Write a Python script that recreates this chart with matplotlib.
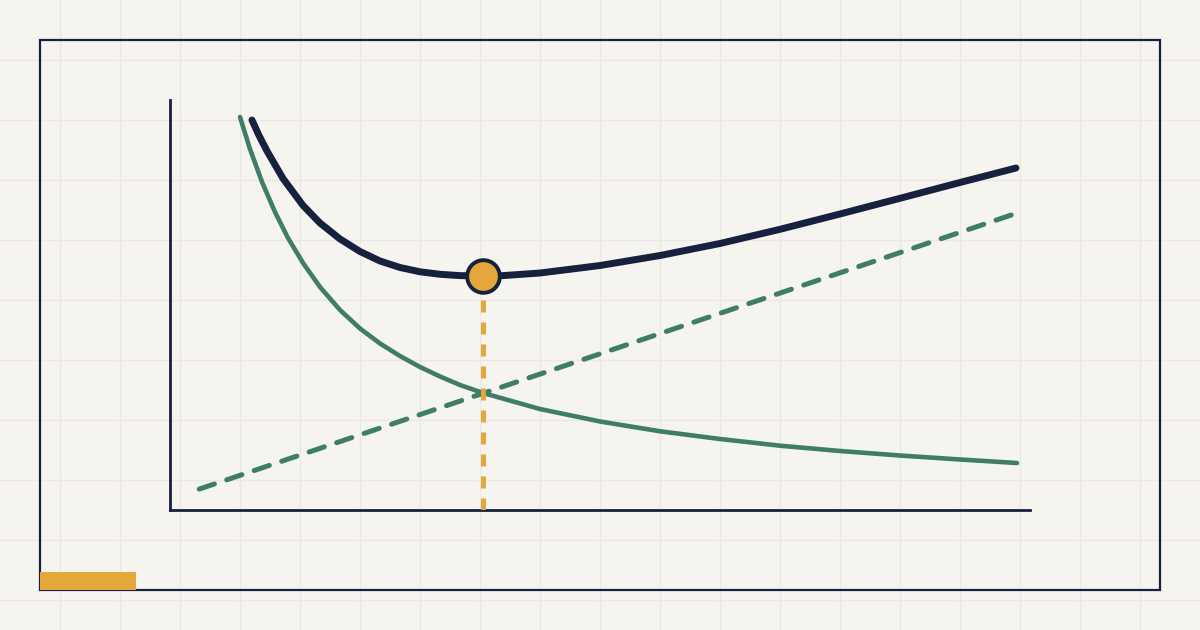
import matplotlib
matplotlib.use("Agg")
import matplotlib.pyplot as plt
from matplotlib.patches import Rectangle

# colours
BG = "#f5f4ef"
GRID = "#ebe8e1"
NAVY = "#16213e"
GREEN = "#3f7d69"
ORANGE = "#e3a73b"

# order quantity (0-100) and cost (0-100)
ordering_x = [8.14, 9.30, 10.70, 12.21, 13.72, 15.47, 17.44, 19.77, 22.09, 24.42, 26.74,
              29.07, 31.40, 33.72, 36.40, 43.02, 50.00, 56.98, 63.95, 70.93, 77.91,
              84.88, 91.86, 98.49]
ordering_y = [95.85, 88.05, 80.00, 72.68, 66.34, 60.24, 54.39, 48.78, 44.27, 40.61, 37.56,
              34.88, 32.56, 30.49, 28.54, 24.63, 21.59, 19.20, 17.32, 15.68, 14.39,
              13.29, 12.32, 11.46]

holding_x = [3.4, 97.9]
holding_y = [5.1, 72.0]

total_x = [9.53, 10.35, 11.28, 13.14, 15.47, 17.44, 19.77, 22.09, 24.42, 26.74, 29.07,
           31.40, 33.72, 36.40, 38.37, 43.02, 50.00, 56.98, 63.95, 70.93, 77.91,
           84.88, 91.86, 98.37]
total_y = [95.12, 91.34, 87.56, 80.85, 74.27, 70.00, 66.10, 63.05, 60.73, 59.15, 58.10,
           57.49, 57.17, 57.07, 57.12, 57.80, 59.63, 62.07, 65.00, 68.46, 72.20,
           76.02, 79.88, 83.41]

eoq_x = 36.4
eoq_y = 57.07

W, H = 1200, 630
fig = plt.figure(figsize=(W / 100, H / 100), dpi=100)
fig.patch.set_facecolor(BG)

# background layer in pixel units: grid, frame and the little orange tab
bg = fig.add_axes([0, 0, 1, 1])
bg.set_xlim(0, W)
bg.set_ylim(H, 0)
bg.axis("off")
for gx in range(60, W, 60):
    bg.axvline(gx, color=GRID, lw=1.0, zorder=0)
for gy in range(60, H, 60):
    bg.axhline(gy, color=GRID, lw=1.0, zorder=0)
bg.add_patch(Rectangle((40, 40), 1120, 550, fill=False, ec=NAVY, lw=1.6, zorder=2))
bg.add_patch(Rectangle((40, 572), 96, 18, fc=ORANGE, ec="none", zorder=3))

# chart
ax = fig.add_axes([170 / W, (H - 510) / H, 860 / W, 410 / H])
ax.set_xlim(0, 100)
ax.set_ylim(0, 100)
ax.patch.set_alpha(0)
for s in ["top", "right"]:
    ax.spines[s].set_visible(False)
for s in ["left", "bottom"]:
    ax.spines[s].set_color(NAVY)
    ax.spines[s].set_linewidth(2.0)
ax.set_xticks([])
ax.set_yticks([])

ax.plot(holding_x, holding_y, color=GREEN, lw=3.6, dashes=(3.2, 2.6),
        dash_capstyle="round", solid_capstyle="round", zorder=3)
ax.plot(ordering_x, ordering_y, color=GREEN, lw=3.3, solid_capstyle="round",
        solid_joinstyle="round", zorder=3)
ax.plot([eoq_x, eoq_x], [0, eoq_y], color=ORANGE, lw=3.6, dashes=(2.4, 2.0),
        dash_capstyle="butt", zorder=4)
ax.plot(total_x, total_y, color=NAVY, lw=5.0, solid_capstyle="round",
        solid_joinstyle="round", zorder=5)
ax.plot([eoq_x], [eoq_y], "o", ms=23.5, mfc=ORANGE, mec=NAVY, mew=2.8, zorder=6,
        clip_on=False)

fig.savefig("out.png", dpi=100, facecolor=BG)
